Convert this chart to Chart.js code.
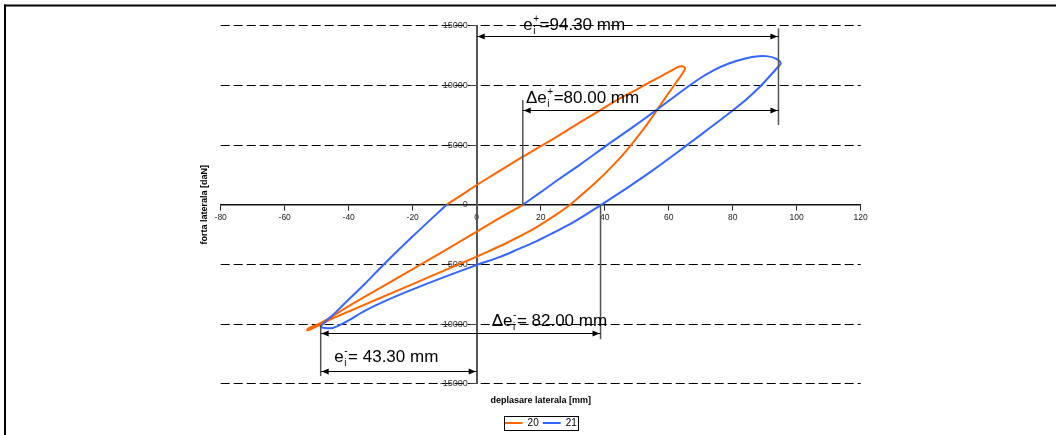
<!DOCTYPE html>
<html>
<head>
<meta charset="utf-8">
<script src="https://cdn.jsdelivr.net/npm/chart.js@4.4.1/dist/chart.umd.min.js"></script>
<style>
  html, body { margin: 0; padding: 0; background: #fff; }
  canvas { display: block; }
</style>
</head>
<body>
<canvas id="loops" width="1056" height="435"></canvas>
<script>
// Hysteresis loops for cycles 20 and 21: lateral displacement [mm] vs lateral force [daN]

const seriesNames = ['20', '21'];

// cycle 20
const disp20 = [-9.4, -5, 0, 5, 14.4, 20, 26, 32, 38.5, 45,
  50, 55, 58.5, 61, 63, 64.5, 65.1, 64.3, 62.5, 60.5,
  58.3, 56, 53, 50, 47, 43, 38.5, 34, 29.2, 24,
  19, 14, 9, 4, 0, -10, -20, -30, -40, -46,
  -50, -52.3, -53, -52.2, -49.5, -46, -40, -30, -20, -10,
  0, 7, 14.6];
const force20 = [0, 760, 1650, 2480, 4020, 4900, 5850, 6850, 7900, 8950,
  9650, 10400, 10900, 11250, 11550, 11580, 11420, 11000, 10300, 9550,
  8700, 7800, 6650, 5600, 4600, 3400, 2200, 1100, 0, -980,
  -1830, -2580, -3250, -3870, -4350, -5500, -6650, -7800, -8950, -9650,
  -10200, -10480, -10520, -10300, -10000, -9500, -8500, -6950, -5400, -3850,
  -2260, -1150, 0];

// cycle 21
const disp21 = [14.4, 20, 26, 32, 40.5, 48, 56, 63, 69, 74,
  79, 84, 88, 91, 93.5, 95, 93.5, 91, 88.5, 84.5,
  80.2, 75, 70, 65.5, 60, 55, 50, 45, 39, 34,
  29, 24, 18.75, 13, 7.3, 0, -10, -20, -28, -35,
  -40, -43, -45, -47.3, -48.75, -44, -40, -35, -29.2, -20,
  -9.4];
const force21 = [0, 1050, 2200, 3300, 4950, 6350, 7900, 9300, 10450, 11250,
  11850, 12250, 12430, 12430, 12250, 11850, 11350, 10600, 9880, 8870,
  7930, 6870, 5850, 4950, 3850, 2880, 1950, 1050, 0, -850,
  -1650, -2350, -3050, -3720, -4370, -5050, -6050, -7100, -8000, -8900,
  -9700, -10120, -10330, -10340, -10220, -9000, -7950, -6650, -5050, -2650,
  0];

const xTicks = [-80, -60, -40, -20, 0, 20, 40, 60, 80, 100, 120];
const yTicks = [-15000, -10000, -5000, 0, 5000, 10000, 15000];

// dimension arrows [x1, y1, x2, y2] and their extension lines
const dimArrows = [
  [0, 14130, 94.3, 14130],
  [14.4, 7930, 94.3, 7930],
  [-48.75, -10770, 38.7, -10770],
  [-48.75, -13900, 0, -13900]
];
const dimExtensions = [
  [94.3, 14770, 94.3, 6670],
  [14.4, 8770, 14.4, 0],
  [38.7, 0, 38.7, -11270],
  [-48.75, -10080, -48.75, -14350]
];
const dimLabels = [
  { x: 14.56, y: 14670, main: 'e', sub: 'i', sup: '+', rest: '=94.30 mm' },
  { x: 15.4, y: 8490, main: '\u0394e', sub: 'i', sup: '+', rest: '=80.00 mm' },
  { x: 4.7, y: -10160, main: '\u0394e', sub: 'i', sup: '-', rest: '= 82.00 mm' },
  { x: -44.5, y: -13200, main: 'e', sub: 'i', sup: '-', rest: '= 43.30 mm' }
];

const FONT = "'Liberation Sans', Arial, Helvetica, sans-serif";
const COLORS = ['#FF6600', '#3366FF'];

function toPoints(xs, ys) {
  return xs.map((x, i) => ({ x: x, y: ys[i] }));
}

// page frame, axis title, dimension arrows and the legend outline
const decorations = {
  id: 'decorations',
  beforeDraw(chart) {
    const ctx = chart.ctx;
    ctx.save();
    ctx.fillStyle = '#fff';
    ctx.fillRect(0, 0, chart.width, chart.height);
    ctx.fillStyle = '#000';
    ctx.fillRect(4, 4.5, chart.width - 4, 2);
    ctx.fillRect(4, 4.5, 2, chart.height - 4.5);
    ctx.restore();
  },
  afterDatasetsDraw(chart) {
    const ctx = chart.ctx;
    const xs = chart.scales.x, ys = chart.scales.y;
    const area = chart.chartArea;
    ctx.save();

    // y axis title
    ctx.fillStyle = '#000';
    ctx.font = `bold 9px ${FONT}`;
    ctx.textAlign = 'center';
    ctx.textBaseline = 'middle';
    ctx.translate(area.left - 16.5, (area.top + area.bottom) / 2);
    ctx.rotate(-Math.PI / 2);
    ctx.fillText('forta laterala [daN]', 0, 0);
    ctx.setTransform(1, 0, 0, 1, 0, 0);

    // extension lines
    ctx.strokeStyle = '#555';
    ctx.lineWidth = 1.5;
    dimExtensions.forEach(([x1, y1, x2, y2]) => {
      ctx.beginPath();
      ctx.moveTo(xs.getPixelForValue(x1), ys.getPixelForValue(y1));
      ctx.lineTo(xs.getPixelForValue(x2), ys.getPixelForValue(y2));
      ctx.stroke();
    });

    // double-headed arrows
    ctx.strokeStyle = '#000';
    ctx.fillStyle = '#000';
    ctx.lineWidth = 1;
    const head = (px, py, dir) => {
      ctx.beginPath();
      ctx.moveTo(px, py);
      ctx.lineTo(px - dir * 7, py - 3);
      ctx.lineTo(px - dir * 7, py + 3);
      ctx.closePath();
      ctx.fill();
    };
    dimArrows.forEach(([x1, y1, x2, y2]) => {
      const a = xs.getPixelForValue(x1), b = xs.getPixelForValue(x2);
      const py = Math.round(ys.getPixelForValue(y1)) + 0.5;
      ctx.beginPath();
      ctx.moveTo(a, py);
      ctx.lineTo(b, py);
      ctx.stroke();
      head(a + 1, py, -1);
      head(b - 1, py, 1);
    });

    // dimension texts
    ctx.textAlign = 'left';
    ctx.textBaseline = 'alphabetic';
    dimLabels.forEach(l => {
      let px = xs.getPixelForValue(l.x);
      const py = ys.getPixelForValue(l.y);
      ctx.font = `17px ${FONT}`;
      ctx.fillText(l.main, px, py);
      px += ctx.measureText(l.main).width + 0.5;
      ctx.font = `10px ${FONT}`;
      ctx.fillText(l.sub, px, py + 4);
      ctx.fillText(l.sup, px, py - 8);
      const adv = Math.max(ctx.measureText(l.sub).width, ctx.measureText(l.sup).width) + 0.5;
      ctx.font = `17px ${FONT}`;
      ctx.fillText(l.rest, px + adv, py);
    });
    ctx.restore();
  },
  afterDraw(chart) {
    const boxes = chart.legend && chart.legend.legendHitBoxes;
    if (!boxes || !boxes.length) return;
    const first = boxes[0], last = boxes[boxes.length - 1];
    const ctx = chart.ctx;
    ctx.save();
    ctx.strokeStyle = '#000';
    ctx.lineWidth = 1;
    const l = Math.round(first.left - 1) + 0.5;
    const r = Math.round(last.left + last.width + 1) + 0.5;
    const t = Math.round(first.top - 2) + 0.5;
    const b = Math.round(first.top + first.height + 2) + 0.5;
    ctx.strokeRect(l, t, r - l, b - t);
    ctx.restore();
  }
};

new Chart(document.getElementById('loops'), {
  type: 'scatter',
  data: {
    datasets: [
      {
        label: seriesNames[0],
        data: toPoints(disp20, force20),
        showLine: true,
        borderColor: COLORS[0],
        backgroundColor: COLORS[0],
        borderWidth: 2,
        pointRadius: 0,
        tension: 0.3,
        order: 1
      },
      {
        label: seriesNames[1],
        data: toPoints(disp21, force21),
        showLine: true,
        borderColor: COLORS[1],
        backgroundColor: COLORS[1],
        borderWidth: 2,
        pointRadius: 0,
        tension: 0.3,
        order: 0
      }
    ]
  },
  options: {
    responsive: false,
    animation: false,
    devicePixelRatio: 1,
    layout: { padding: { left: 220.7, right: 195.3, top: 25.7, bottom: 0 } },
    scales: {
      x: {
        type: 'linear',
        position: { y: 0 },
        min: -80,
        max: 120,
        afterBuildTicks(scale) { scale.ticks = xTicks.map(v => ({ value: v })); },
        ticks: {
          autoSkip: false,
          maxRotation: 0,
          padding: 3,
          color: '#222',
          font: { family: FONT, size: 8.5 },
          callback: v => String(v)
        },
        grid: { drawOnChartArea: false, drawTicks: true, tickLength: 5, tickColor: '#222', color: '#222' },
        border: { display: true, color: '#111', width: 1.5 }
      },
      y: {
        type: 'linear',
        position: { x: 0 },
        min: -15000,
        max: 15000,
        afterBuildTicks(scale) { scale.ticks = yTicks.map(v => ({ value: v })); },
        ticks: {
          autoSkip: false,
          padding: 2,
          color: '#333',
          font: { family: FONT, size: 9 },
          // en spaces keep the label clear of the axis line
          callback: v => String(v) + '\u2002\u2002'
        },
        grid: { color: '#000', lineWidth: 1, drawTicks: true, tickLength: 6, tickColor: '#444', tickBorderDash: [] },
        border: { display: true, color: '#555', width: 2, dash: [9, 4] }
      }
    },
    plugins: {
      title: {
        display: true,
        text: 'deplasare laterala [mm]',
        position: 'bottom',
        fullSize: false,
        weight: 500,
        color: '#000',
        font: { family: FONT, size: 9, weight: 'bold', lineHeight: 1.2 },
        padding: { top: 11, bottom: 8.5 }
      },
      legend: {
        display: true,
        position: 'bottom',
        fullSize: false,
        maxHeight: 21,
        labels: {
          usePointStyle: true,
          pointStyle: 'line',
          pointStyleWidth: 18,
          boxHeight: 10,
          padding: 4,
          color: '#000',
          font: { family: FONT, size: 10 },
          sort: (a, b) => a.datasetIndex - b.datasetIndex
        }
      },
      tooltip: { enabled: false }
    }
  },
  plugins: [decorations]
});
</script>
</body>
</html>
